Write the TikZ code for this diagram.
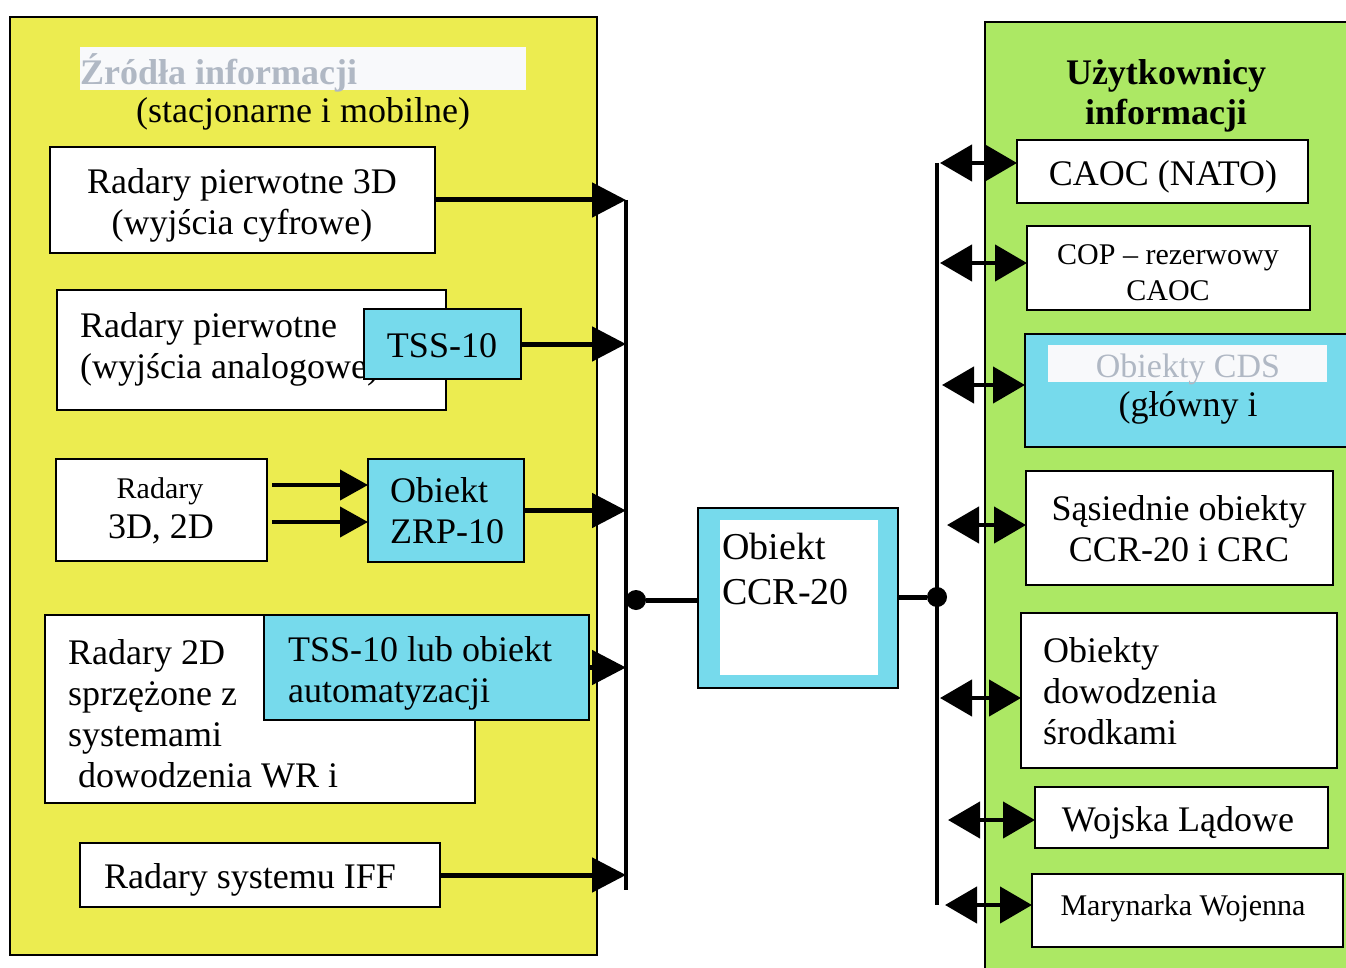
\documentclass[tikz,border=0pt]{standalone}
\usepackage{fontspec}
\setmainfont{Liberation Serif}
\usetikzlibrary{arrows.meta}

\definecolor{panelyellow}{RGB}{236,236,80}
\definecolor{panelgreen}{RGB}{172,232,100}
\definecolor{unitcyan}{RGB}{118,218,236}
\definecolor{fadedtext}{RGB}{176,184,196}
\definecolor{stripwhite}{RGB}{248,249,251}

\tikzset{
  panel/.style={draw, line width=1.6pt},
  wbox/.style={draw, fill=white, line width=2.4pt, inner sep=0pt, outer sep=0pt, anchor=north west},
  cbox/.style={draw, fill=unitcyan, line width=2.4pt, inner sep=0pt, outer sep=0pt, anchor=north west},
  txt/.style={inner sep=0pt, yshift=-3pt, font=\fontsize{36}{41}\selectfont},
  smalltxt/.style={inner sep=0pt, yshift=-3pt, font=\fontsize{30}{36}\selectfont},
  feed/.style={line width=5pt, -{Triangle[length=34pt,width=34pt]}},
  feedthin/.style={line width=4pt, -{Triangle[length=28pt,width=30pt]}},
  link/.style={line width=4.5pt, {Triangle[length=32pt,width=36pt]}-{Triangle[length=32pt,width=36pt]}},
  busline/.style={line width=4pt},
  junction/.style={circle, fill=black, inner sep=0pt, minimum size=20pt},
}

\begin{document}
\begin{tikzpicture}[x=1pt, y=-1pt]
  \clip (0,0) rectangle (1346,968);
  \fill[white] (0,0) rectangle (1346,968);

  % ---------- sources panel ----------
  \draw[panel, fill=panelyellow] (10,17) rectangle (597,955);
  \fill[stripwhite] (80,47) rectangle (526,90);
  \node[txt, anchor=west, text=fadedtext, font=\fontsize{36}{41}\selectfont\bfseries] (srctitle) at (80,70) {Źródła informacji};
  \node[txt] (srcsub) at (303,111) {(stacjonarne i mobilne)};

  % left collecting bus
  \coordinate (busLt) at (626,200);
  \coordinate (busLb) at (626,890);
  \draw[busline] (busLt) -- (busLb);

  % primary 3D radars
  \node[wbox, minimum width=385pt, minimum height=106pt] (r1) at (50,147) {};
  \node[txt, align=center] at (242,202) {Radary pierwotne 3D\\(wyjścia cyfrowe)};
  \draw[feed] (r1.east) -- (r1.east -| busLt);

  % primary radars with analogue outputs
  \node[wbox, minimum width=389pt, minimum height=120pt] (r2) at (57,290) {};
  \node[txt, anchor=west, align=left] at (80,346) {Radary pierwotne\\(wyjścia analogowe)};
  \node[cbox, minimum width=157pt, minimum height=70pt] (tss) at (364,309) {};
  \node[txt] at (442,343) {TSS-10};
  \draw[feed] (tss.east) -- (tss.east -| busLt);

  % 3D / 2D radars through ZRP-10
  \node[wbox, minimum width=211pt, minimum height=102pt] (r3) at (56,459) {};
  \node[smalltxt] at (160,488) {Radary};
  \node[txt] at (161,526) {3D, 2D};
  \node[cbox, minimum width=156pt, minimum height=103pt] (zrp) at (368,459) {};
  \node[txt, anchor=west, align=left] at (390,508) {Obiekt\\ZRP-10};
  \draw[feedthin] ([xshift=5pt,yshift=25pt]r3.east) -- ([yshift=25pt]r3.east -| zrp.west);
  \draw[feedthin] ([xshift=5pt,yshift=-12pt]r3.east) -- ([yshift=-12pt]r3.east -| zrp.west);
  \draw[feed] (zrp.east) -- (zrp.east -| busLt);

  % 2D radars coupled with command systems
  \node[wbox, minimum width=430pt, minimum height=188pt] (r4) at (45,615) {};
  \node[txt, anchor=west, align=left] at (68,711) {Radary 2D\\sprzężone z\\systemami\\\hspace*{10pt}dowodzenia WR i};
  \node[cbox, minimum width=325pt, minimum height=105pt] (tssa) at (264,615) {};
  \node[txt, anchor=west, align=left] at (288,670) {TSS-10 lub obiekt\\automatyzacji};
  \draw[feed] (tssa.east) -- (tssa.east -| busLt);

  % IFF radars
  \node[wbox, minimum width=360pt, minimum height=64pt] (r5) at (80,843) {};
  \node[txt] at (250,877) {Radary systemu IFF};
  \draw[feed] (r5.east) -- (r5.east -| busLt);

  % ---------- central CCR-20 ----------
  \node[cbox, minimum width=200pt, minimum height=180pt] (ccr) at (698,508) {};
  \fill[white] (720,520) rectangle (878,675);
  \node[txt, anchor=west, align=left, font=\fontsize{38}{45}\selectfont] at (722,566) {Obiekt\\CCR-20};
  \node[junction] (jl) at (636,600) {};
  \draw[line width=5pt] (jl) -- (jl -| ccr.west);

  % ---------- users panel ----------
  \draw[panel, fill=panelgreen] (985,22) rectangle (1360,975);
  \node[txt, align=center, font=\fontsize{36}{40}\selectfont\bfseries] (usrtitle) at (1166,93) {Użytkownicy\\informacji};

  % right distribution bus
  \coordinate (busRt) at (937,163);
  \coordinate (busRb) at (937,905);
  \draw[busline] (busRt) -- (busRb);
  \node[junction] (jr) at (937,597) {};
  \draw[line width=5pt] (ccr.east |- jr) -- (jr);

  \node[wbox, minimum width=291pt, minimum height=63pt] (u1) at (1017,140) {};
  \node[txt] at (1163,174) {CAOC (NATO)};

  \node[wbox, minimum width=283pt, minimum height=84pt] (u2) at (1027,226) {};
  \begin{scope}
    \clip (1030,229) rectangle (1306,300);
    \node[smalltxt, align=center] at (1168,270) {COP – rezerwowy\\CAOC};
  \end{scope}

  \node[cbox, minimum width=335pt, minimum height=113pt] (u3) at (1025,334) {};
  \fill[stripwhite] (1048,345) rectangle (1327,382);
  \node[txt, text=fadedtext, font=\fontsize{34}{40}\selectfont] at (1188,366) {Obiekty CDS};
  \node[txt] at (1188,405) {(główny i};

  \node[wbox, minimum width=307pt, minimum height=114pt] (u4) at (1026,471) {};
  \node[txt, align=center] at (1179,526) {Sąsiednie obiekty\\CCR-20 i CRC};

  \node[wbox, minimum width=316pt, minimum height=155pt] (u5) at (1021,613) {};
  \node[txt, anchor=west, align=left] at (1043,688) {Obiekty\\dowodzenia\\środkami};

  \node[wbox, minimum width=293pt, minimum height=61pt] (u6) at (1035,787) {};
  \node[txt] at (1178,820) {Wojska Lądowe};

  \node[wbox, minimum width=311pt, minimum height=73pt] (u7) at (1032,874) {};
  \node[smalltxt] at (1183,905) {Marynarka Wojenna};

  % two-way links from the bus to each user
  \coordinate (k1) at (940,163);
  \coordinate (k2) at (940,263);
  \coordinate (k3) at (942,385);
  \coordinate (k4) at (947,525);
  \coordinate (k5) at (940,698);
  \coordinate (k6) at (948,820);
  \coordinate (k7) at (945,905);
  \draw[link] (k1) -- (k1 -| u1.west);
  \draw[link] (k2) -- (k2 -| u2.west);
  \draw[link] (k3) -- (k3 -| u3.west);
  \draw[link] (k4) -- (k4 -| u4.west);
  \draw[link] (k5) -- (k5 -| u5.west);
  \draw[link] (k6) -- (k6 -| u6.west);
  \draw[link] (k7) -- (k7 -| u7.west);
\end{tikzpicture}
\end{document}
